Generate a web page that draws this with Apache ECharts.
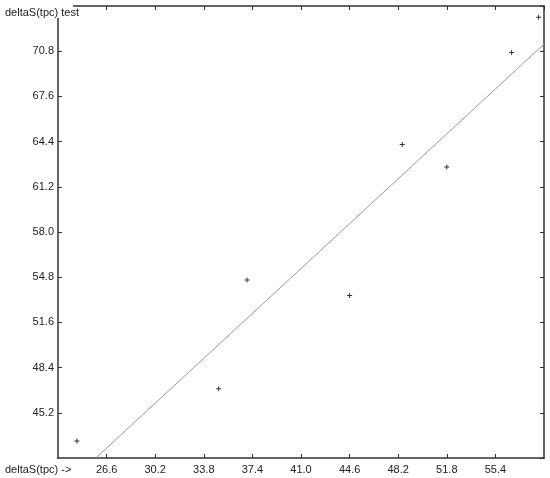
<!DOCTYPE html>
<html>
<head>
<meta charset="utf-8">
<script src="https://cdn.jsdelivr.net/npm/echarts@6/dist/echarts.min.js"></script>
<style>
  html, body { margin: 0; padding: 0; background: #fff; }
  #chart { width: 550px; height: 478px; }
</style>
</head>
<body>
<div id="chart"></div>
<script>
// measured points (deltaS(tpc), deltaS(tpc) test)
const xValues = [24.4, 34.9, 37.0, 44.6, 48.5, 51.8, 56.6, 58.6]
const yValues = [43.2, 46.9, 54.6, 53.5, 64.2, 62.6, 70.7, 73.2]
// fit line end points
const fitLine = [[25.8, 42.0], [59.0, 71.3]]

const xMin = 23.0, xMax = 59.0, xStep = 3.6
const yMin = 42.0, yMax = 74.0, yStep = 3.2

const points = xValues.map((x, i) => [x, yValues[i]])

const font = 'Liberation Sans, Arial, sans-serif'
const hLine = { show: true, lineStyle: { color: '#333', width: 1.5 } }
const vLine = { show: true, lineStyle: { color: '#666', width: 2 } }
const innerTick = { show: true, inside: true, length: 4, lineStyle: { color: '#333' } }

const chart = echarts.init(document.getElementById('chart'))

chart.setOption({
  animation: false,
  grid: { left: 58, right: 6, top: 6, bottom: 20 },
  xAxis: [
    {
      type: 'value', min: xMin, max: xMax, interval: xStep,
      axisLine: hLine, axisTick: innerTick, splitLine: { show: false },
      axisLabel: {
        margin: 6, color: '#222', fontSize: 11, fontFamily: font,
        showMinLabel: false, showMaxLabel: false,
        formatter: v => v.toFixed(1)
      }
    },
    {
      type: 'value', position: 'top', min: xMin, max: xMax, interval: xStep,
      axisLine: hLine, axisTick: innerTick, splitLine: { show: false },
      axisLabel: { show: false }
    }
  ],
  yAxis: [
    {
      type: 'value', min: yMin, max: yMax, interval: yStep,
      axisLine: vLine, axisTick: innerTick, splitLine: { show: false },
      axisLabel: {
        margin: 4, color: '#222', fontSize: 11, fontFamily: font,
        showMinLabel: false, showMaxLabel: false,
        formatter: v => v.toFixed(1)
      }
    },
    {
      type: 'value', position: 'right', min: yMin, max: yMax, interval: yStep,
      axisLine: vLine, axisTick: innerTick, splitLine: { show: false },
      axisLabel: { show: false }
    }
  ],
  graphic: [
    { type: 'rect', z: 100, shape: { x: 0, y: 0, width: 73, height: 18 }, style: { fill: '#fff' } },
    {
      type: 'text', z: 101, left: 5, top: 7,
      style: { text: 'deltaS(tpc) test', fill: '#222', font: '11px ' + font }
    },
    {
      type: 'text', z: 101, left: 5, top: 464,
      style: { text: 'deltaS(tpc) ->', fill: '#222', font: '11px ' + font }
    }
  ],
  series: [
    {
      type: 'line',
      data: fitLine,
      showSymbol: false,
      silent: true,
      lineStyle: { color: '#999', width: 1 }
    },
    {
      type: 'scatter',
      data: points,
      symbol: 'path://M2,0H3V2H5V3H3V5H2V3H0V2H2Z',
      symbolSize: 5,
      itemStyle: { color: '#000' }
    }
  ]
})
</script>
</body>
</html>
